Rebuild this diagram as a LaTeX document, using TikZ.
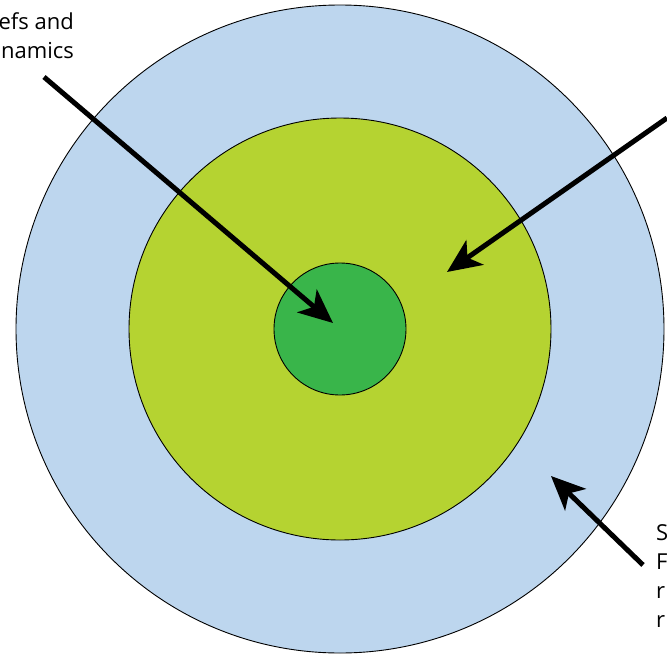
\documentclass[tikz,border=0pt]{standalone}
\usepackage{fontspec}
\setmainfont{Open Sans}
\usetikzlibrary{arrows.meta}
\definecolor{ringblue}{RGB}{189,214,238}
\definecolor{ringlime}{RGB}{181,211,49}
\definecolor{coregreen}{RGB}{57,181,74}
\begin{document}
\begin{tikzpicture}[x=1pt, y=-1pt, font=\fontsize{22}{29}\selectfont,
	ring/.style={circle, draw=black, line width=0.9pt, inner sep=0pt},
	pointer/.style={-{Stealth[length=34pt, width=30pt, inset=9pt]}, line width=5pt}]
	\useasboundingbox (0,0) rectangle (667,659);
	\clip (0,0) rectangle (667,659);
	% Ringe
	\node[ring, fill=ringblue, minimum size=648pt] (outer) at (340,329) {};
	\node[ring, fill=ringlime, minimum size=422pt] (middle) at (outer.center) {};
	\node[ring, fill=coregreen, minimum size=132pt] (core) at (outer.center) {};
	% Texte
	\node[align=right, anchor=north east, inner sep=0pt] (lefttext) at (74,12) {efs and\\namics};
	\node[align=left, anchor=north west, inner sep=0pt] (righttext) at (656,524) {S\\F\\r\\r};
	% Pfeile
	\coordinate (leftstart) at (44,77);
	\coordinate (rightstart) at (667,118);
	\coordinate (lowstart) at (643,565);
	\coordinate (coretip) at (333,323);
	\coordinate (middletip) at (447,272);
	\coordinate (outertip) at (551,476);
	\draw[pointer] (leftstart) -- (coretip);
	\draw[pointer] (rightstart) -- (middletip);
	\draw[pointer] (lowstart) -- (outertip);
\end{tikzpicture}
\end{document}
